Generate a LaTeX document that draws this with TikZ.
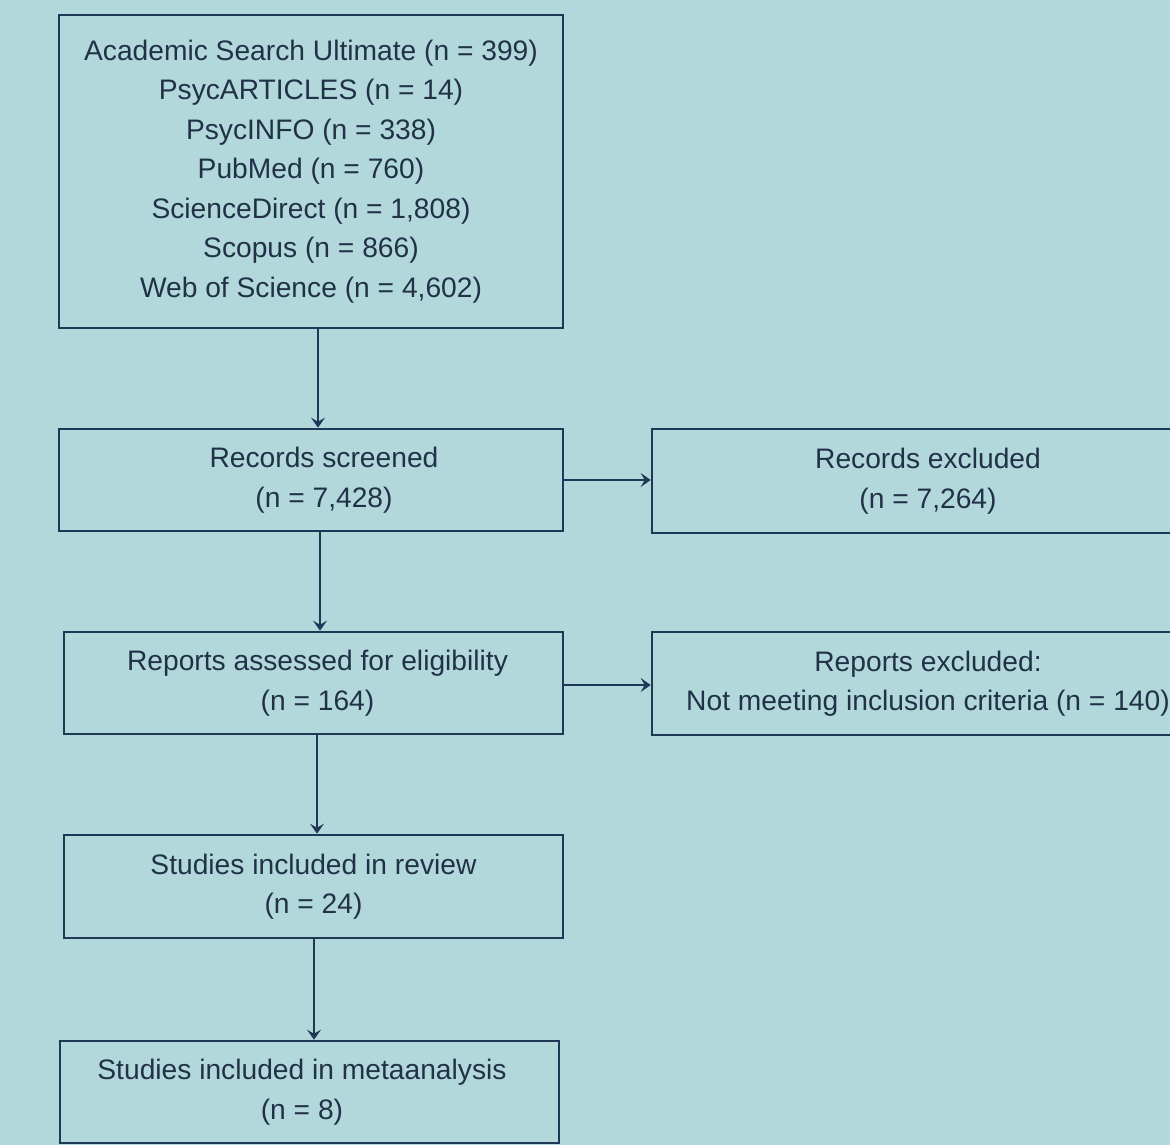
\documentclass[tikz,border=0pt]{standalone}
\usepackage{fontspec}
\setmainfont{Liberation Sans}
\usetikzlibrary{arrows.meta}
\definecolor{bgteal}{RGB}{178,216,220}
\definecolor{navy}{RGB}{31,56,85}
\definecolor{inktext}{RGB}{33,50,72}
\begin{document}
\begin{tikzpicture}[x=1pt,y=1pt,
  box/.style={draw=navy,line width=2.6pt,rectangle,align=center,text=inktext,
    inner sep=0pt,font=\fontsize{28.2}{39.5}\selectfont},
  arr/.style={navy,line width=2.4pt,-{Stealth[length=10pt,width=14pt,inset=4pt]}}]
  \fill[bgteal] (0,0) rectangle (1170,-1145);
  \clip (0,0) rectangle (1170,-1145);
  \useasboundingbox (0,0) rectangle (1170,-1145);
  % left column
  \node[box,minimum width=504,minimum height=313] (src) at (311,-171.5)
    {Academic Search Ultimate (n = 399)\\PsycARTICLES (n = 14)\\PsycINFO (n = 338)\\
     PubMed (n = 760)\\ScienceDirect (n = 1,808)\\Scopus (n = 866)\\Web of Science (n = 4,602)};
  \node[box,minimum width=504,minimum height=102] (scr) at (311,-480)
    {\hspace*{26pt}Records screened\\\hspace*{26pt}(n = 7,428)};
  \node[box,minimum width=499,minimum height=102] (elig) at (313.5,-683)
    {\hspace*{8pt}Reports assessed for eligibility\\\hspace*{8pt}(n = 164)};
  \node[box,minimum width=499,minimum height=103] (rev) at (313.5,-886.5)
    {Studies included in review\\(n = 24)};
  \node[box,minimum width=499,minimum height=102] (meta) at (309.5,-1092)
    {Studies included in metaanalysis\hspace*{15pt}\\(n = 8)\hspace*{15pt}};
  % right column
  \node[box,minimum width=552,minimum height=104] (rexc) at (928,-481)
    {Records excluded\\(n = 7,264)};
  \node[box,minimum width=552,minimum height=103] (eexc) at (928,-683.5)
    {Reports excluded:\\Not meeting inclusion criteria (n = 140)};
  % arrows
  \draw[arr] ([xshift=7]src.south) -- ([xshift=7]src.south |- scr.north);
  \draw[arr] ([xshift=9]scr.south) -- ([xshift=9]scr.south |- elig.north);
  \draw[arr] ([xshift=3.5]elig.south) -- ([xshift=3.5]elig.south |- rev.north);
  \draw[arr] ([xshift=0.5]rev.south) -- ([xshift=0.5]rev.south |- meta.north);
  \draw[arr] (scr.east) -- (scr.east -| rexc.west);
  \draw[arr] ([yshift=-2]elig.east) -- ([yshift=-2]elig.east -| eexc.west);
\end{tikzpicture}
\end{document}
